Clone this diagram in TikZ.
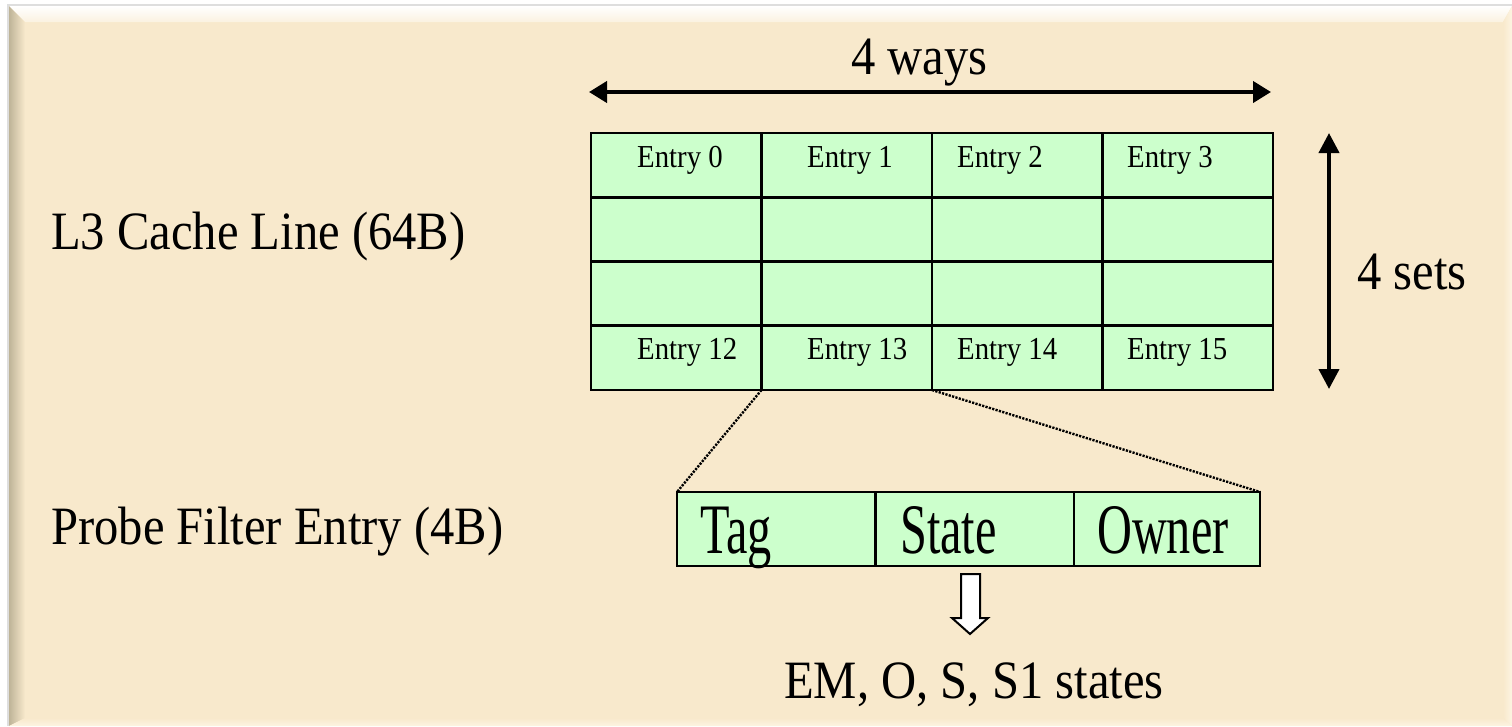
\documentclass[tikz,border=0pt]{standalone}
\usepackage{fontspec}
\setmainfont{Liberation Serif}[FakeStretch=0.9]
\newfontfamily\fieldfont{Liberation Serif}[FakeStretch=0.68]
\usetikzlibrary{arrows.meta,calc}
\definecolor{paper}{RGB}{248,233,204}
\definecolor{cellgreen}{RGB}{204,255,204}
\definecolor{bevelshade}{RGB}{190,180,152}
\definecolor{bevellight}{RGB}{253,244,226}

\begin{document}
\begin{tikzpicture}[x=1pt,y=-1pt,
  bigtext/.style={font=\fontsize{54}{60}\selectfont, inner sep=0pt, anchor=base west},
  fieldtext/.style={font=\fieldfont\fontsize{71}{78}\selectfont, inner sep=0pt, anchor=base west},
  entrytext/.style={font=\fontsize{32}{36}\selectfont, inner sep=0pt, anchor=base west},
  cell/.style={draw=black, line width=2.7pt, fill=cellgreen, minimum width=170.5pt,
    minimum height=64.25pt, inner sep=0pt, outer sep=0pt},
  fieldcell/.style={draw=black, line width=2.7pt, fill=cellgreen, minimum height=74pt,
    inner sep=0pt, outer sep=0pt},
  dimarrow/.style={line width=4pt,
    {Triangle[length=18pt,width=21pt]}-{Triangle[length=18pt,width=21pt]}},
  zoomline/.style={line width=2.4pt, dash pattern=on 2.2pt off 1.3pt},
  blockarrow/.style={draw=black, line width=2pt, fill=white, line join=miter}
]
\useasboundingbox (0,0) rectangle (1512,726);

% beveled panel behind everything
\fill[white] (0,0) rectangle (1512,726);
\fill[black!13] (7,4) rectangle (1512,726);
\fill[paper] (9,6) rectangle (1512,726);
\shade[top color=white, middle color=white, bottom color=paper!60!white]
  (9,6) -- (1512,6) -- (1503,22) -- (25,22) -- cycle;
\shade[left color=bevelshade, right color=paper]
  (9,6) -- (25,22) -- (25,718) -- (9,726) -- cycle;
\shade[left color=paper, right color=bevellight]
  (1503,22) -- (1512,6) -- (1512,726) -- (1503,718) -- cycle;
\shade[top color=paper, bottom color=bevellight]
  (25,718) -- (1503,718) -- (1512,726) -- (9,726) -- cycle;

% 4 x 4 cache set array
\foreach \r in {0,1,2,3} {
  \foreach \c in {0,1,2,3} {
    \node[cell] (c\r\c) at ({591+170.5*(\c+0.5)},{133+64.25*(\r+0.5)}) {};
  }
}
\foreach \c/\x in {0/637,1/807,2/957,3/1127} {
  \node[entrytext] (e0\c) at (\x,167) {Entry \c};
  \pgfmathtruncatemacro\lastidx{12+\c}
  \node[entrytext] (e3\c) at (\x,359) {Entry \lastidx};
}

% dimension arrows
\coordinate (wl) at (589,92);
\coordinate (wr) at (1271,92);
\draw[dimarrow] (wl) -- (wr);
\node[bigtext] (ways) at (851,74) {4 ways};

\coordinate (st) at (1329,133);
\coordinate (sb) at (1329,389);
\draw[line width=4pt, {Triangle[length=20pt,width=20pt]}-{Triangle[length=20pt,width=20pt]}] (st) -- (sb);
\node[bigtext] (sets) at (1357,289) {4 sets};

% row labels
\node[bigtext] (l3) at (51,249) {L3 Cache Line (64B)};
\node[bigtext] (pf) at (51,544) {Probe Filter Entry (4B)};

% probe filter entry fields
\node[fieldcell, minimum width=198.5pt] (ptag) at (776.25,529) {};
\node[fieldcell, minimum width=198.5pt] (pstate) at (974.75,529) {};
\node[fieldcell, minimum width=186pt] (powner) at (1167,529) {};
\node[fieldtext] (ttag) at (700,553) {Tag};
\node[fieldtext] (tstate) at (900,553) {State};
\node[fieldtext] (towner) at (1097,553) {Owner};

% zoom lines from Entry 13 to the expanded entry
\draw[zoomline] (c31.south west) -- (ptag.north west);
\draw[zoomline] (c31.south east) -- (powner.north east);

% hollow down arrow to the list of states
\draw[blockarrow] (961,574) -- (980,574) -- (980,618) -- (988,618) -- (970,634)
  -- (952,618) -- (961,618) -- cycle;
\node[bigtext] (states) at (784,698) {EM, O, S, S1 states};
\end{tikzpicture}
\end{document}
